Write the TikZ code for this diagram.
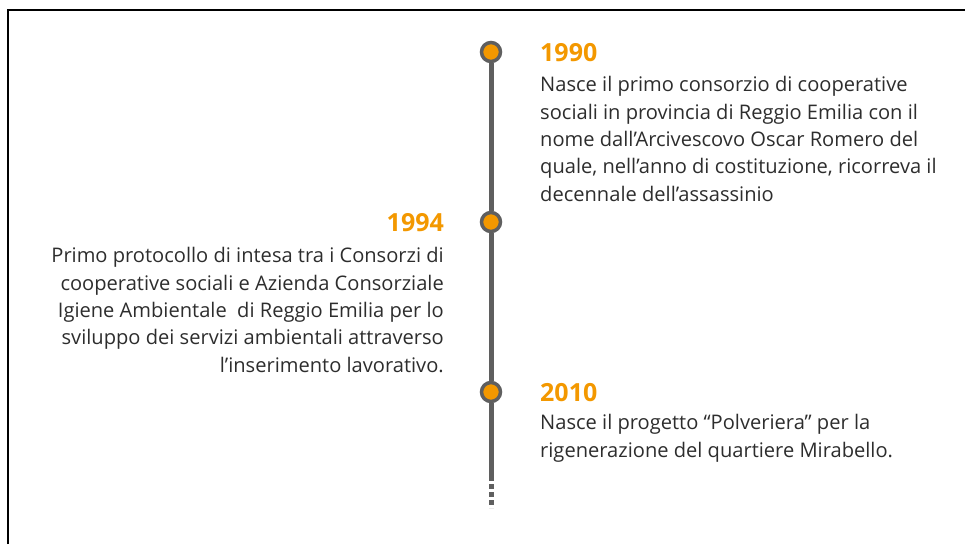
\documentclass[tikz,border=0pt]{standalone}
\usepackage{fontspec}
\setmainfont{Open Sans}
\usetikzlibrary{positioning}
\definecolor{tlorange}{RGB}{243,152,0}
\definecolor{tlgray}{RGB}{95,95,95}
\definecolor{txtgray}{RGB}{45,45,45}

\begin{document}
\begin{tikzpicture}[x=1pt,y=-1pt]
  \tikzstyle{Dot}=[circle,draw=tlgray,line width=3.5pt,fill=tlorange,minimum size=19pt,inner sep=0pt]
  \tikzstyle{Year}=[inner sep=0pt,text=tlorange,font=\fontsize{25}{28}\selectfont\bfseries]
  \tikzstyle{Txt}=[inner sep=0pt,text=txtgray,font=\fontsize{20.1}{27.3}\selectfont]
  \tikzstyle{Line}=[draw=tlgray,line width=5pt]
  \useasboundingbox (0,0) rectangle (965,544);
  % frame
  \draw[line width=2pt] (8,544) -- (8,10) -- (965,10);
  % timeline
  \node[Dot] (d1990) at (491,52) {};
  \node[Dot] (d1994) at (491,222) {};
  \node[Dot] (d2010) at (491,392) {};
  \coordinate (tend) at (491,481);
  \draw[Line] (d1990) -- (d1994);
  \draw[Line] (d1994) -- (d2010);
  \draw[Line] (d2010) -- (tend);
  \draw[Line,dash pattern=on 5pt off 3pt] (tend) ++(0,3) coordinate (tdots) -- ++(0,24);
  % 1990
  \node[Year,anchor=base west] (y1990) at (540,61) {1990};
  \node[Txt,anchor=base west,align=left] (t1990) at (540,201)
    {Nasce il primo consorzio di cooperative\\
     sociali in provincia di Reggio Emilia con il\\
     nome dall’Arcivescovo Oscar Romero del\\
     quale, nell’anno di costituzione, ricorreva il\\
     decennale dell’assassinio};
  % 1994
  \node[Year,anchor=base east] (y1994) at (444,231) {1994};
  \node[Txt,anchor=base east,align=right] (t1994) at (444,372)
    {Primo protocollo di intesa tra i Consorzi di\\
     cooperative sociali e Azienda Consorziale\\
     Igiene Ambientale \ di Reggio Emilia per lo\\
     sviluppo dei servizi ambientali attraverso\\
     l’inserimento lavorativo.};
  % 2010
  \node[Year,anchor=base west] (y2010) at (540,401) {2010};
  \node[Txt,anchor=base west,align=left] (t2010) at (540,457)
    {Nasce il progetto “Polveriera” per la\\
     rigenerazione del quartiere Mirabello.};
\end{tikzpicture}
\end{document}
